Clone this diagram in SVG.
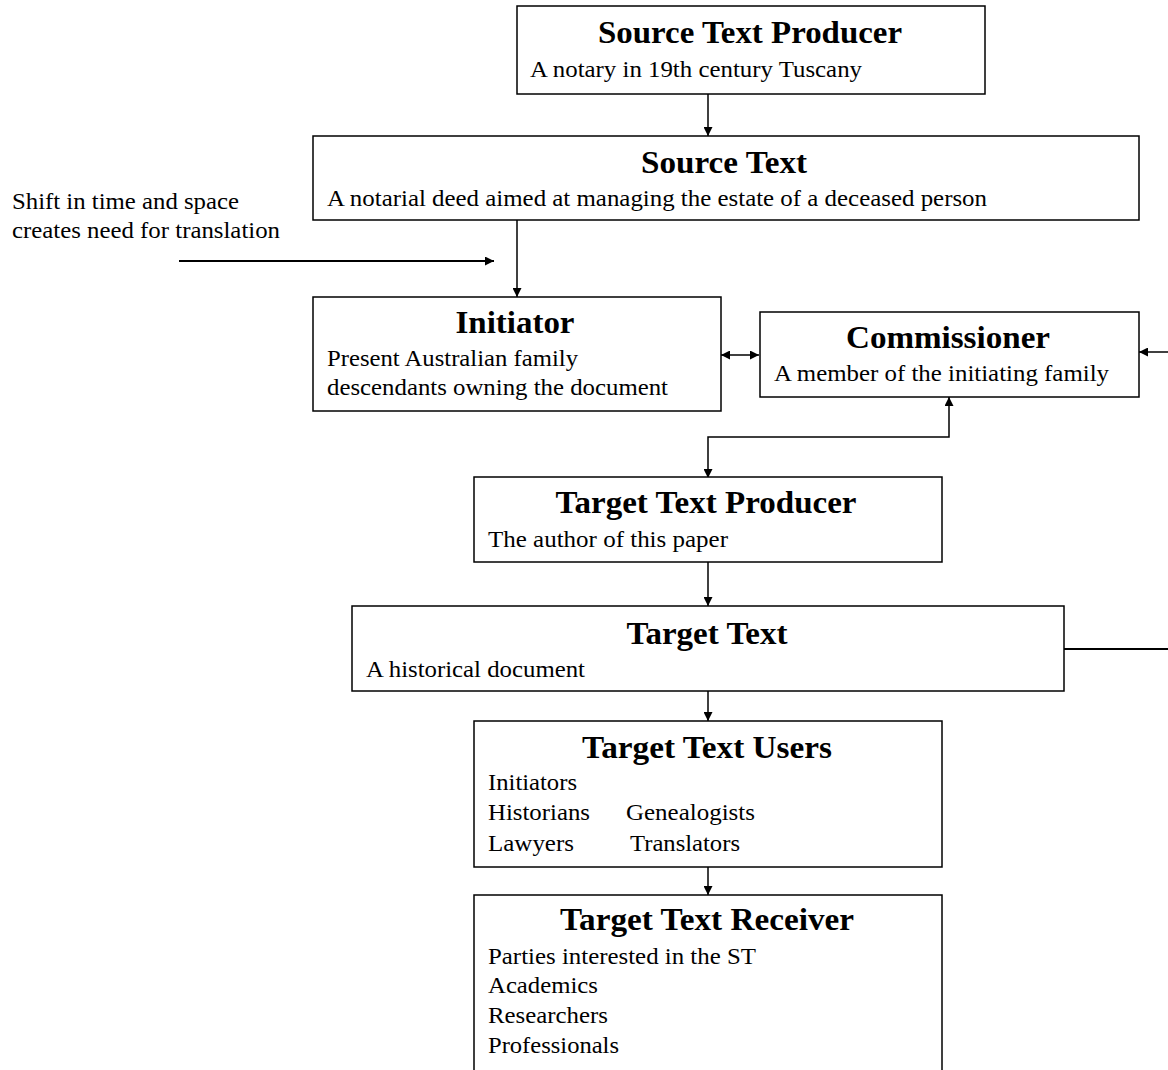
<svg xmlns="http://www.w3.org/2000/svg" width="1168" height="1070" viewBox="0 0 1168 1070">
<style>
.box{fill:#fff;stroke:#000;stroke-width:1.5}
.t{font-family:"Liberation Serif","Times New Roman",serif;font-weight:bold;font-size:32px;fill:#000;text-anchor:middle}
.s{font-family:"Liberation Serif","Times New Roman",serif;font-size:23px;fill:#000}
.c{fill:none;stroke:#000;stroke-width:1.5}
.thick{fill:none;stroke:#000;stroke-width:2}
</style>
<defs>
<marker id="ah" viewBox="0 0 10 10" refX="10" refY="5" markerWidth="9" markerHeight="9" markerUnits="userSpaceOnUse" orient="auto-start-reverse">
<path d="M0,0 L10,5 L0,10 z" fill="#000"/>
</marker>
</defs>
<rect width="1168" height="1070" fill="#fff"/>
<g id="connectors">
<line class="c" x1="708" y1="94" x2="708" y2="136" marker-end="url(#ah)"/>
<line class="c" x1="517" y1="220" x2="517" y2="297" marker-end="url(#ah)"/>
<line class="thick" x1="179" y1="261" x2="494" y2="261" marker-end="url(#ah)"/>
<line class="c" x1="721" y1="355" x2="759" y2="355" marker-start="url(#ah)" marker-end="url(#ah)"/>
<line class="c" x1="1168" y1="352" x2="1139" y2="352" marker-end="url(#ah)"/>
<polyline class="c" points="708,478 708,437 949,437 949,397" marker-start="url(#ah)" marker-end="url(#ah)"/>
<line class="c" x1="708" y1="562" x2="708" y2="606" marker-end="url(#ah)"/>
<line class="thick" x1="1064" y1="649" x2="1168" y2="649"/>
<line class="c" x1="708" y1="691" x2="708" y2="721" marker-end="url(#ah)"/>
<line class="c" x1="708" y1="867" x2="708" y2="895" marker-end="url(#ah)"/>
</g>
<g id="shift-note">
<text class="s" x="12" y="209" textLength="227" lengthAdjust="spacingAndGlyphs">Shift in time and space</text>
<text class="s" x="12" y="238" textLength="268" lengthAdjust="spacingAndGlyphs">creates need for translation</text>
</g>
<g id="source-text-producer">
<rect class="box" x="517" y="6" width="468" height="88"/>
<text class="t" x="750" y="43" textLength="304" lengthAdjust="spacingAndGlyphs">Source Text Producer</text>
<text class="s" x="530" y="77" textLength="332" lengthAdjust="spacingAndGlyphs">A notary in 19th century Tuscany</text>
</g>
<g id="source-text">
<rect class="box" x="313" y="136" width="826" height="84"/>
<text class="t" x="724" y="173" textLength="166" lengthAdjust="spacingAndGlyphs">Source Text</text>
<text class="s" x="327" y="206" textLength="660" lengthAdjust="spacingAndGlyphs">A notarial deed aimed at managing the estate of a deceased person</text>
</g>
<g id="initiator">
<rect class="box" x="313" y="297" width="408" height="114"/>
<text class="t" x="515" y="333" textLength="119" lengthAdjust="spacingAndGlyphs">Initiator</text>
<text class="s" x="327" y="366" textLength="251" lengthAdjust="spacingAndGlyphs">Present Australian family</text>
<text class="s" x="327" y="395" textLength="341" lengthAdjust="spacingAndGlyphs">descendants owning the document</text>
</g>
<g id="commissioner">
<rect class="box" x="760" y="312" width="379" height="85"/>
<text class="t" x="948" y="348" textLength="204" lengthAdjust="spacingAndGlyphs">Commissioner</text>
<text class="s" x="774" y="381" textLength="335" lengthAdjust="spacingAndGlyphs">A member of the initiating family</text>
</g>
<g id="target-text-producer">
<rect class="box" x="474" y="477" width="468" height="85"/>
<text class="t" x="706" y="513" textLength="301" lengthAdjust="spacingAndGlyphs">Target Text Producer</text>
<text class="s" x="488" y="547" textLength="240" lengthAdjust="spacingAndGlyphs">The author of this paper</text>
</g>
<g id="target-text">
<rect class="box" x="352" y="606" width="712" height="85"/>
<text class="t" x="707" y="644" textLength="161" lengthAdjust="spacingAndGlyphs">Target Text</text>
<text class="s" x="366" y="677" textLength="219" lengthAdjust="spacingAndGlyphs">A historical document</text>
</g>
<g id="target-text-users">
<rect class="box" x="474" y="721" width="468" height="146"/>
<text class="t" x="707" y="758" textLength="250" lengthAdjust="spacingAndGlyphs">Target Text Users</text>
<text class="s" x="488" y="790" textLength="89" lengthAdjust="spacingAndGlyphs">Initiators</text>
<text class="s" x="488" y="820" textLength="102" lengthAdjust="spacingAndGlyphs">Historians</text>
<text class="s" x="626" y="820" textLength="129" lengthAdjust="spacingAndGlyphs">Genealogists</text>
<text class="s" x="488" y="851" textLength="86" lengthAdjust="spacingAndGlyphs">Lawyers</text>
<text class="s" x="630" y="851" textLength="110" lengthAdjust="spacingAndGlyphs">Translators</text>
</g>
<g id="target-text-receiver">
<rect class="box" x="474" y="895" width="468" height="190"/>
<text class="t" x="707" y="930" textLength="294" lengthAdjust="spacingAndGlyphs">Target Text Receiver</text>
<text class="s" x="488" y="964" textLength="268" lengthAdjust="spacingAndGlyphs">Parties interested in the ST</text>
<text class="s" x="488" y="993" textLength="110" lengthAdjust="spacingAndGlyphs">Academics</text>
<text class="s" x="488" y="1023" textLength="120" lengthAdjust="spacingAndGlyphs">Researchers</text>
<text class="s" x="488" y="1053" textLength="131" lengthAdjust="spacingAndGlyphs">Professionals</text>
</g>
</svg>
